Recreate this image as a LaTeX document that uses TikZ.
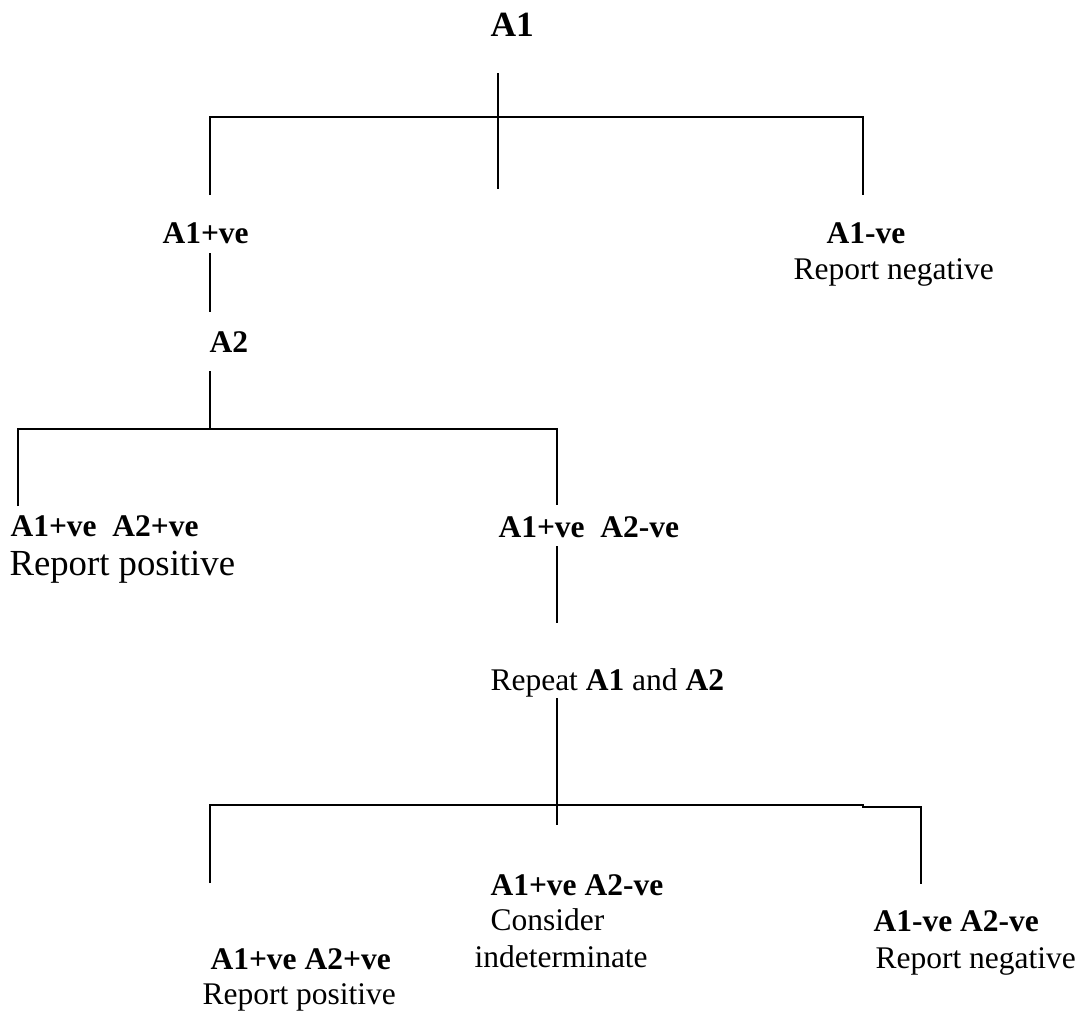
\documentclass[tikz,border=0pt]{standalone}
\usepackage{fontspec}
\setmainfont{Liberation Serif}
\usepackage{tikz}
\pgfdeclarelayer{edgelayer}
\pgfdeclarelayer{nodelayer}
\pgfsetlayers{edgelayer,nodelayer,main}
\tikzstyle{none}=[inner sep=0pt]
\tikzstyle{test}=[inner sep=0pt,anchor=base west,font=\fontsize{12}{14}\selectfont\bfseries]
\tikzstyle{result}=[inner sep=0pt,anchor=base west,font=\fontsize{12}{14}\selectfont]
\tikzstyle{branch}=[draw=black,line width=0.5pt]

\begin{document}
\begin{tikzpicture}[x=0.381pt,y=-0.381pt]
	\useasboundingbox (0,0) rectangle (1078,1013);
	\begin{pgfonlayer}{nodelayer}
		\node [style=test,font=\fontsize{13.5}{16}\selectfont\bfseries] (0) at (490, 36) {A1};
		\node [style=test] (1) at (162, 243) {A1+ve};
		\node [style=test] (2) at (826, 243) {A1-ve};
		\node [style=result] (3) at (793, 279) {Report negative};
		\node [style=test] (4) at (209, 352) {A2};
		\node [style=test] (5) at (10, 536) {A1+ve\ \ A2+ve};
		\node [style=result,font=\fontsize{14}{16}\selectfont] (6) at (9, 575) {Report positive};
		\node [style=test] (7) at (498, 537) {A1+ve\ \ A2-ve};
		\node [style=result] (8) at (490, 690) {Repeat \textbf{A1} and \textbf{A2}};
		\node [style=test] (9) at (490, 895) {A1+ve A2-ve};
		\node [style=result] (10) at (490, 930) {Consider};
		\node [style=result] (11) at (474, 967) {indeterminate};
		\node [style=test] (12) at (210, 969) {A1+ve A2+ve};
		\node [style=result] (13) at (202, 1004) {Report positive};
		\node [style=test] (14) at (873, 931) {A1-ve A2-ve};
		\node [style=result] (15) at (875, 968) {Report negative};
		% branch points
		\node [style=none] (20) at (498, 73) {};
		\node [style=none] (21) at (498, 189) {};
		\node [style=none] (22) at (210, 117) {};
		\node [style=none] (23) at (863, 117) {};
		\node [style=none] (24) at (210, 195) {};
		\node [style=none] (25) at (863, 195) {};
		\node [style=none] (26) at (210, 253) {};
		\node [style=none] (27) at (210, 312) {};
		\node [style=none] (28) at (210, 371) {};
		\node [style=none] (29) at (210, 429) {};
		\node [style=none] (30) at (18, 429) {};
		\node [style=none] (31) at (557, 429) {};
		\node [style=none] (32) at (18, 506) {};
		\node [style=none] (33) at (557, 505) {};
		\node [style=none] (34) at (557, 546) {};
		\node [style=none] (35) at (557, 623) {};
		\node [style=none] (36) at (557, 698) {};
		\node [style=none] (37) at (557, 825) {};
		\node [style=none] (38) at (210, 805) {};
		\node [style=none] (39) at (863, 805) {};
		\node [style=none] (40) at (863, 807) {};
		\node [style=none] (41) at (921, 807) {};
		\node [style=none] (42) at (210, 883) {};
		\node [style=none] (43) at (921, 884) {};
	\end{pgfonlayer}
	\begin{pgfonlayer}{edgelayer}
		\draw [style=branch] (20.center) to (21.center);
		\draw [style=branch] (24.center) to (22.center) to (23.center) to (25.center);
		\draw [style=branch] (26.center) to (27.center);
		\draw [style=branch] (28.center) to (29.center);
		\draw [style=branch] (32.center) to (30.center) to (31.center) to (33.center);
		\draw [style=branch] (34.center) to (35.center);
		\draw [style=branch] (36.center) to (37.center);
		\draw [style=branch] (42.center) to (38.center) to (39.center) to (40.center) to (41.center) to (43.center);
	\end{pgfonlayer}
\end{tikzpicture}
\end{document}
